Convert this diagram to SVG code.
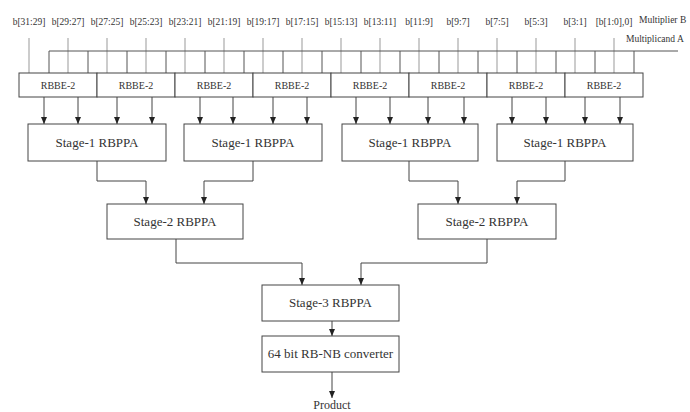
<svg xmlns="http://www.w3.org/2000/svg" width="690" height="412" viewBox="0 0 690 412" font-family="'Liberation Serif', 'Times New Roman', serif">
<defs>
<marker id="ah" markerWidth="7" markerHeight="6" refX="7" refY="3" orient="auto" markerUnits="userSpaceOnUse" viewBox="0 0 7 6">
<path d="M0,0 L7,3 L0,6 Z" fill="#222"/>
</marker>
</defs>
<style>
text{font-family:"Liberation Serif","Times New Roman",serif;fill:#333}
.lbl{font-size:9.5px;text-anchor:middle}
.side{font-size:9.5px}
.rb{font-size:10px;text-anchor:middle}
.st{font-size:13px;text-anchor:middle}
.box{fill:#fff;stroke:#444;stroke-width:1}
.ln{fill:none;stroke:#555;stroke-width:1}
.lt{fill:none;stroke:#999;stroke-width:1}
.ar{fill:none;stroke:#444;stroke-width:1;marker-end:url(#ah)}
</style>
<rect width="690" height="412" fill="#fff"/>
<g id="labels">
<text class="lbl" x="29" y="25">b[31:29]</text>
<text class="lbl" x="68" y="25">b[29:27]</text>
<text class="lbl" x="107" y="25">b[27:25]</text>
<text class="lbl" x="146" y="25">b[25:23]</text>
<text class="lbl" x="185" y="25">b[23:21]</text>
<text class="lbl" x="224" y="25">b[21:19]</text>
<text class="lbl" x="263" y="25">b[19:17]</text>
<text class="lbl" x="302" y="25">b[17:15]</text>
<text class="lbl" x="341" y="25">b[15:13]</text>
<text class="lbl" x="380" y="25">b[13:11]</text>
<text class="lbl" x="419" y="25">b[11:9]</text>
<text class="lbl" x="458" y="25">b[9:7]</text>
<text class="lbl" x="497" y="25">b[7:5]</text>
<text class="lbl" x="536" y="25">b[5:3]</text>
<text class="lbl" x="575" y="25">b[3:1]</text>
<text class="lbl" x="614" y="25">[b[1:0],0]</text>
<text class="side" x="639" y="23">Multiplier B</text>
<text class="side" x="626" y="42">Multiplicand A</text>
</g>
<g id="connectors">
<path class="lt" d="M29,38V73M68,38V73M107,38V73M146,38V73M185,38V73M224,38V73M263,38V73M302,38V73M341,38V73M380,38V73M419,38V73M458,38V73M497,38V73M536,38V73M575,38V73M614,38V73"/>
<path class="ln" d="M49,51H678M49,51V73M88,51V73M127,51V73M166,51V73M205,51V73M244,51V73M283,51V73M322,51V73M361,51V73M400,51V73M439,51V73M478,51V73M517,51V73M556,51V73M595,51V73M634,51V73"/>
<path class="ar" d="M44,97V124"/><path class="ar" d="M78,97V124"/>
<path class="ar" d="M117,97V124"/><path class="ar" d="M152,97V124"/>
<path class="ar" d="M200,97V124"/><path class="ar" d="M233,97V124"/>
<path class="ar" d="M273,97V124"/><path class="ar" d="M307,97V124"/>
<path class="ar" d="M356,97V124"/><path class="ar" d="M390,97V124"/>
<path class="ar" d="M428,97V124"/><path class="ar" d="M464,97V124"/>
<path class="ar" d="M512,97V124"/><path class="ar" d="M546,97V124"/>
<path class="ar" d="M585,97V124"/><path class="ar" d="M620,97V124"/>
<path class="ar" d="M97,161V181H146V204"/>
<path class="ar" d="M253,161V181H204V204"/>
<path class="ar" d="M409,161V181H458V204"/>
<path class="ar" d="M565,161V181H517V204"/>
<path class="ar" d="M176,239V263H302V285"/>
<path class="ar" d="M487,239V263H361V285"/>
<path class="ar" d="M332,321V336"/>
<path class="ar" d="M332,372V398"/>
</g>
<g id="rbbe">
<rect class="box" x="19" y="73" width="78" height="24"/>
<rect class="box" x="97" y="73" width="78" height="24"/>
<rect class="box" x="175" y="73" width="78" height="24"/>
<rect class="box" x="253" y="73" width="78" height="24"/>
<rect class="box" x="331" y="73" width="78" height="24"/>
<rect class="box" x="409" y="73" width="78" height="24"/>
<rect class="box" x="487" y="73" width="78" height="24"/>
<rect class="box" x="565" y="73" width="78" height="24"/>
<text class="rb" x="58" y="89">RBBE-2</text>
<text class="rb" x="136" y="89">RBBE-2</text>
<text class="rb" x="214" y="89">RBBE-2</text>
<text class="rb" x="292" y="89">RBBE-2</text>
<text class="rb" x="370" y="89">RBBE-2</text>
<text class="rb" x="448" y="89">RBBE-2</text>
<text class="rb" x="526" y="89">RBBE-2</text>
<text class="rb" x="604" y="89">RBBE-2</text>
</g>
<g id="stage1a"><rect class="box" x="28" y="124" width="138" height="37"/><text class="st" x="97" y="147">Stage-1 RBPPA</text></g>
<g id="stage1b"><rect class="box" x="184" y="124" width="138" height="37"/><text class="st" x="253" y="147">Stage-1 RBPPA</text></g>
<g id="stage1c"><rect class="box" x="342" y="124" width="136" height="37"/><text class="st" x="410" y="147">Stage-1 RBPPA</text></g>
<g id="stage1d"><rect class="box" x="497" y="124" width="136" height="37"/><text class="st" x="565" y="147">Stage-1 RBPPA</text></g>
<g id="stage2a"><rect class="box" x="107" y="204" width="136" height="35"/><text class="st" x="175" y="226">Stage-2 RBPPA</text></g>
<g id="stage2b"><rect class="box" x="418" y="204" width="138" height="35"/><text class="st" x="487" y="226">Stage-2 RBPPA</text></g>
<g id="stage3"><rect class="box" x="262" y="285" width="137" height="36"/><text class="st" x="330.5" y="307">Stage-3 RBPPA</text></g>
<g id="converter"><rect class="box" x="262" y="336" width="137" height="36"/><text class="st" x="330.5" y="358">64 bit RB-NB converter</text></g>
<g id="product"><text class="st" x="332" y="409" style="font-size:12px">Product</text></g>
</svg>
